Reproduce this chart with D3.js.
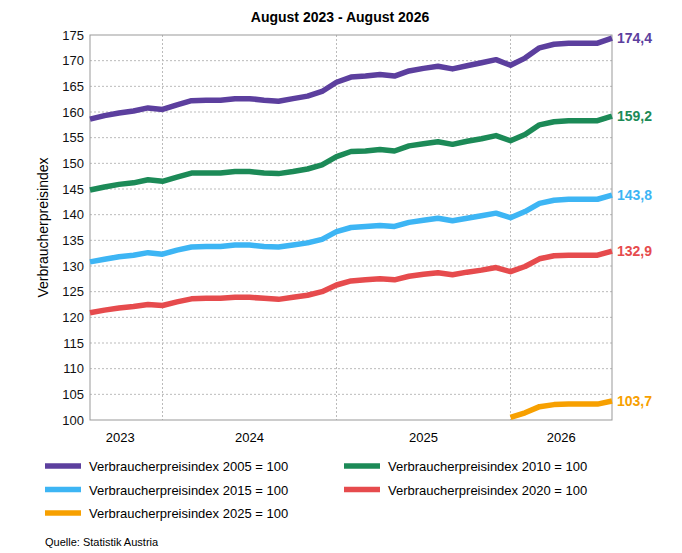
<!DOCTYPE html>
<html><head><meta charset="utf-8">
<script src="https://cdn.jsdelivr.net/npm/d3@7"></script>
<style>body{margin:0;background:#fff;font-family:"Liberation Sans",Arial,sans-serif}</style>
</head><body><svg id="c" width="682" height="553"></svg>
<script>
// Data: monthly values, Aug 2023 .. Aug 2026
const vpi2005 = [158.6,159.3,159.8,160.2,160.8,160.5,161.4,162.2,162.3,162.3,162.6,162.6,162.3,162.1,162.6,163.1,164.0,165.8,166.8,167.0,167.3,167.0,168.0,168.5,168.9,168.4,169.0,169.6,170.2,169.1,170.5,172.5,173.2,173.4,173.4,173.4,174.4];
const vpi2010 = [144.8,145.4,145.9,146.2,146.8,146.5,147.3,148.1,148.1,148.1,148.4,148.4,148.1,148.0,148.4,148.9,149.7,151.3,152.3,152.4,152.7,152.4,153.4,153.8,154.2,153.7,154.3,154.8,155.4,154.4,155.6,157.5,158.1,158.3,158.3,158.3,159.2];
const vpi2015 = [130.8,131.3,131.8,132.1,132.6,132.3,133.1,133.7,133.8,133.8,134.1,134.1,133.8,133.7,134.1,134.5,135.2,136.7,137.5,137.7,137.9,137.7,138.5,138.9,139.3,138.8,139.3,139.8,140.3,139.4,140.6,142.2,142.8,143.0,143.0,143.0,143.8];
const vpi2020 = [120.9,121.4,121.8,122.1,122.5,122.3,123.0,123.6,123.7,123.7,123.9,123.9,123.7,123.5,123.9,124.3,125.0,126.3,127.1,127.3,127.5,127.3,128.0,128.4,128.7,128.3,128.8,129.2,129.7,128.9,129.9,131.4,132.0,132.1,132.1,132.1,132.9];
const vpi2025 = [null,null,null,null,null,null,null,null,null,null,null,null,null,null,null,null,null,null,null,null,null,null,null,null,null,null,null,null,null,100.5,101.4,102.6,103.0,103.1,103.1,103.1,103.7];
const years = ['2023','2024','2025','2026'];
const endLabels = ['174,4','159,2','143,8','132,9','103,7'];

const series = [
  { name: 'Verbraucherpreisindex 2005 = 100', values: vpi2005, color: '#5c3f9e', label: endLabels[0] },
  { name: 'Verbraucherpreisindex 2010 = 100', values: vpi2010, color: '#1c8a57', label: endLabels[1] },
  { name: 'Verbraucherpreisindex 2015 = 100', values: vpi2015, color: '#3db5f4', label: endLabels[2] },
  { name: 'Verbraucherpreisindex 2020 = 100', values: vpi2020, color: '#e64b4d', label: endLabels[3] },
  { name: 'Verbraucherpreisindex 2025 = 100', values: vpi2025, color: '#f7a000', label: endLabels[4] }
];

const L = 90, R = 612, T = 35, B = 420;
const svg = d3.select('#c');
const x = d3.scaleLinear().domain([0, 36]).range([L, R]);
const y = d3.scaleLinear().domain([100, 175]).range([B, T]);

// Title
svg.append('text').attr('x', 340).attr('y', 22).attr('text-anchor', 'middle')
  .attr('font-size', 14).attr('font-weight', 'bold').text('August 2023 - August 2026');

// Grid
const grid = svg.append('g').attr('stroke', '#bbb').attr('stroke-dasharray', '2,2');
d3.range(105, 175, 5).forEach(v => grid.append('line').attr('x1', L).attr('x2', R).attr('y1', y(v)).attr('y2', y(v)));
[5, 17, 29].forEach(i => grid.append('line').attr('x1', x(i)).attr('x2', x(i)).attr('y1', T).attr('y2', B));
svg.append('rect').attr('x', L).attr('y', T).attr('width', R - L).attr('height', B - T)
  .attr('fill', 'none').attr('stroke', '#999');

// Y axis
const ya = svg.append('g').attr('transform', `translate(${L},0)`)
  .call(d3.axisLeft(y).tickValues(d3.range(100, 176, 5)).tickSize(0).tickPadding(6));
ya.select('.domain').remove();
ya.selectAll('text').attr('font-size', 13).attr('font-family', '"Liberation Sans",Arial').attr('fill', '#111');
svg.append('text').attr('transform', `translate(48,${(T + B) / 2}) rotate(-90)`).attr('text-anchor', 'middle')
  .attr('font-size', 14).text('Verbraucherpreisindex');

// Year labels
const yearBounds = [[0, 5], [5, 17], [17, 29], [29, 36]];
years.forEach((yr, i) => svg.append('text').attr('x', x((yearBounds[i][0] + yearBounds[i][1]) / 2) - (i === 0 ? 6 : 0))
  .attr('y', 442).attr('text-anchor', 'middle').attr('font-size', 13).text(yr));

// Lines
const line = d3.line().defined(d => d != null).x((d, i) => x(i)).y(d => y(d));
series.forEach(s => {
  svg.append('path').datum(s.values).attr('d', line).attr('fill', 'none')
    .attr('stroke', s.color).attr('stroke-width', 5.5).attr('stroke-linejoin', 'round');
  svg.append('text').attr('x', R + 5).attr('y', y(s.values[36]) + 5).attr('fill', s.color)
    .attr('font-size', 14).attr('font-weight', 'bold').text(s.label);
});

// Legend
series.forEach((s, i) => {
  const lx = i % 2 === 0 ? 45 : 344, ly = 466 + Math.floor(i / 2) * 23.5;
  svg.append('line').attr('x1', lx).attr('x2', lx + 36).attr('y1', ly).attr('y2', ly)
    .attr('stroke', s.color).attr('stroke-width', 5.5);
  svg.append('text').attr('x', lx + 44).attr('y', ly + 5).attr('font-size', 13).text(s.name);
});

svg.append('text').attr('x', 45).attr('y', 546).attr('font-size', 11).text('Quelle: Statistik Austria');
</script></body></html>
